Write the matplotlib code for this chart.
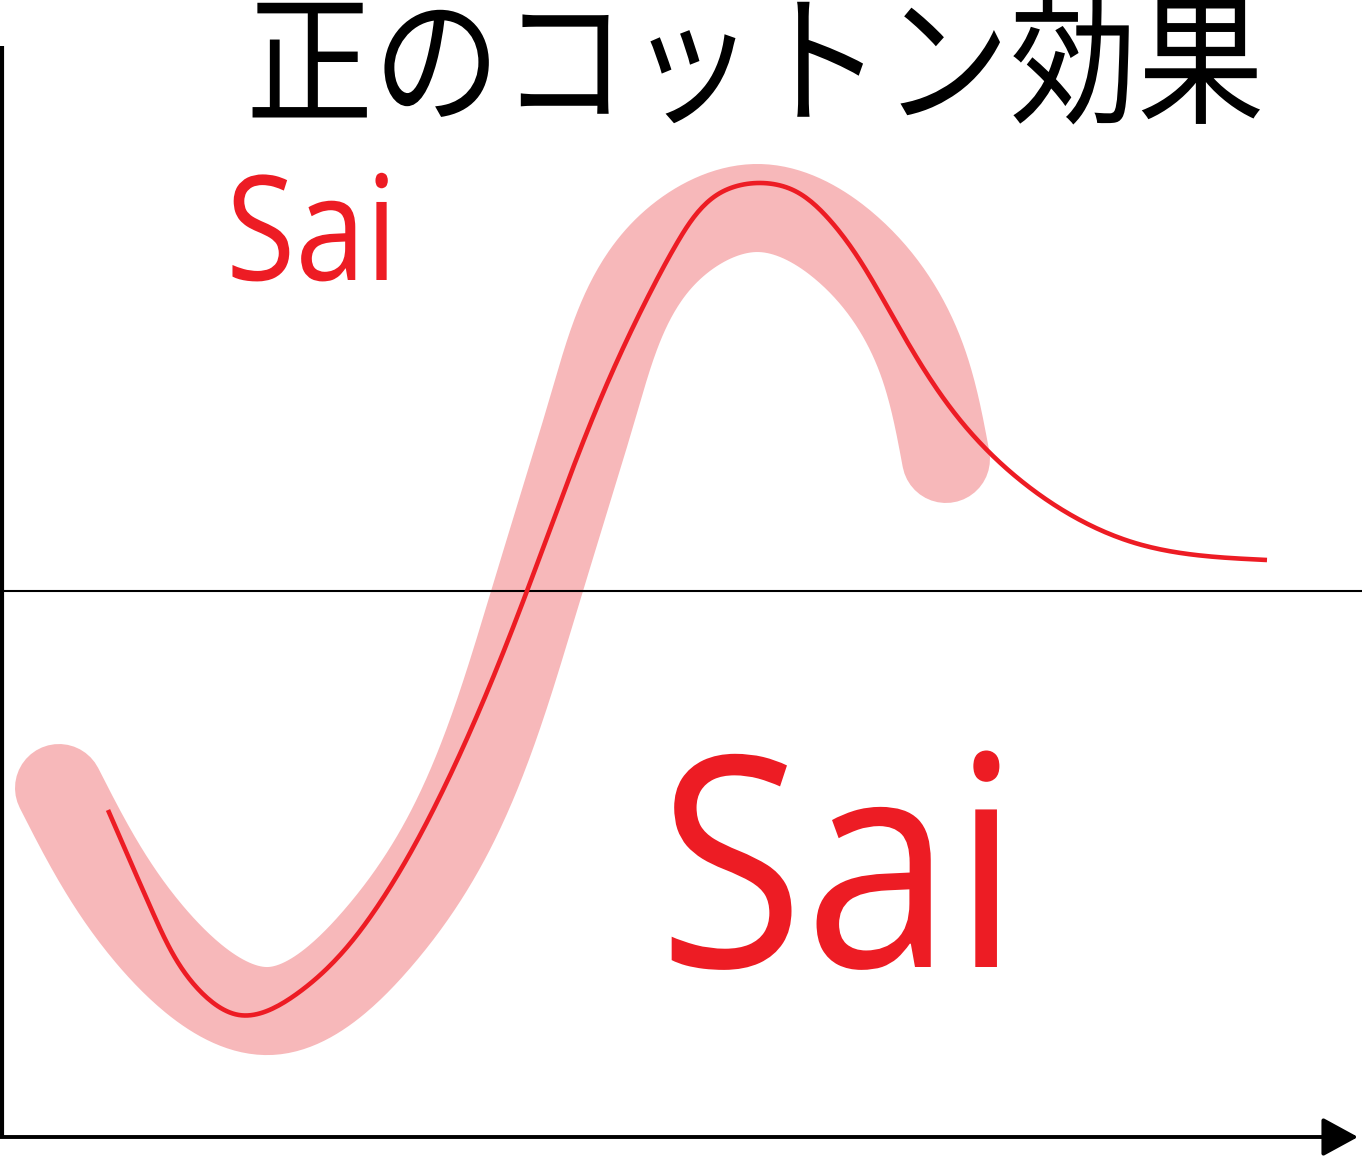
import numpy as np
import matplotlib
matplotlib.use("Agg")
import matplotlib.pyplot as plt
from matplotlib.transforms import Affine2D
from matplotlib.patheffects import AbstractPathEffect

# ---- data (x: horizontal units, y: signal relative to the zero baseline) ----
title = "正のコットン効果"
label_small = "Sai"
label_big = "Sai"

# thin red Cotton-effect curve
curve_x = [108, 153, 199, 239, 298, 373, 443, 527, 610, 653, 677, 720, 758,
           793, 827, 893, 960, 1037, 1135, 1267]
curve_y = [-219, -322, -399, -424, -402, -322, -199, 0, 214, 304, 348, 398, 408,
           401, 374, 274, 171, 98, 48, 31]

# thick pink highlighted band
band_x = [59, 150, 270, 378, 465, 537, 595, 665, 758, 851, 922, 946]
band_y = [-197, -344, -420, -347, -209, 0, 191, 339, 383, 339, 231, 132]

RED = "#ed1c24"
PINK = "#f7b8ba"


def spline_xy(xs, ys, steps=600):
    """Natural cubic spline through the points, chord-length parametrised."""
    P = np.column_stack([xs, ys]).astype(float)
    n = len(P)
    h = np.linalg.norm(np.diff(P, axis=0), axis=1)
    s = np.concatenate([[0], np.cumsum(h)])
    A = np.zeros((n, n))
    A[0, 0] = A[-1, -1] = 1.0
    R = np.zeros((n, 2))
    for i in range(1, n - 1):
        A[i, i - 1] = h[i - 1]
        A[i, i] = 2 * (h[i - 1] + h[i])
        A[i, i + 1] = h[i]
        R[i] = 6 * ((P[i + 1] - P[i]) / h[i] - (P[i] - P[i - 1]) / h[i - 1])
    M = np.linalg.solve(A, R)
    su = np.linspace(0, s[-1], steps)
    k = np.clip(np.searchsorted(s, su, side="right") - 1, 0, n - 2)
    hk = h[k][:, None]
    a = (s[k + 1][:, None] - su[:, None]) / hk
    b = (su[:, None] - s[k][:, None]) / hk
    out = a * P[k] + b * P[k + 1] + ((a ** 3 - a) * M[k] + (b ** 3 - b) * M[k + 1]) * hk ** 2 / 6
    return out[:, 0], out[:, 1]


class HStretch(AbstractPathEffect):
    """Draw text condensed horizontally about a given display x."""
    def __init__(self, sx, x0):
        super().__init__()
        self.sx, self.x0 = sx, x0

    def draw_path(self, renderer, gc, tpath, affine, rgbFace=None):
        t = affine + Affine2D().translate(-self.x0, 0).scale(self.sx, 1).translate(self.x0, 0)
        renderer.draw_path(gc, tpath, t, rgbFace)


W, H = 1362, 1158
fig = plt.figure(figsize=(W / 100, H / 100), dpi=100)
ax = fig.add_axes([0, 0, 1, 1])
ax.set_xlim(0, W)
ax.set_ylim(591 - H, 591)
ax.axis("off")

# band
bx, by = spline_xy(band_x, band_y)
ax.plot(bx, by, color=PINK, lw=88 * 0.72, solid_capstyle="round",
        solid_joinstyle="round", zorder=1)
# baseline
ax.plot([5, W], [0, 0], color="black", lw=1.5, zorder=2)
# thin curve
cx, cy = spline_xy(curve_x, curve_y)
ax.plot(cx, cy, color=RED, lw=3.3, solid_capstyle="butt",
        solid_joinstyle="round", zorder=3)

# axes
ax.plot([2, 2], [545, -546], color="black", lw=3.0, solid_capstyle="butt", zorder=4)
ax.annotate("", xy=(1358, -546), xytext=(0, -546),
            arrowprops=dict(arrowstyle="-|>,head_length=1.1,head_width=0.6",
                            mutation_scale=20, lw=2.8, color="black",
                            shrinkA=0, shrinkB=0), zorder=4)

# text
def px(xd):
    return ax.transData.transform((xd, 0))[0]

ax.text(755, 591 - 72, title, ha="center", va="center", fontsize=103,
        family=["Noto Sans CJK JP", "DejaVu Sans"], color="black",
        path_effects=[HStretch(0.89, px(755))])
ax.text(226, 591 - 280, label_small, ha="left", va="baseline", fontsize=105,
        family=["Open Sans", "DejaVu Sans"], color=RED,
        path_effects=[HStretch(0.867, px(226))])
ax.text(658, 591 - 967, label_big, ha="left", va="baseline", fontsize=212,
        family=["Open Sans", "DejaVu Sans"], color=RED,
        path_effects=[HStretch(0.906, px(658))])

fig.savefig("out.png", dpi=100)
